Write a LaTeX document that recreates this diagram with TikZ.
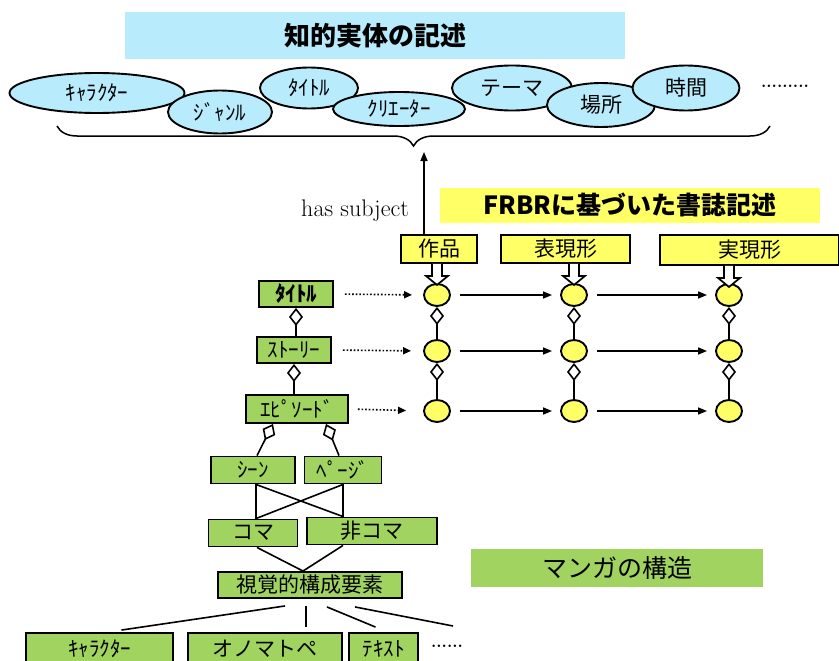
\documentclass[tikz,border=0pt]{standalone}
\usepackage{fontspec}
\newfontfamily\jp{Noto Sans CJK JP}
\usetikzlibrary{shapes.geometric,arrows.meta,decorations.pathreplacing,calc}
\definecolor{lblue}{RGB}{184,236,252}
\definecolor{lyel}{RGB}{255,255,102}
\definecolor{lgreen}{RGB}{160,211,96}
\begin{document}
\begin{tikzpicture}[x=1pt,y=-1pt,
 ent/.style={ellipse, draw, line width=1.9pt, fill=lblue, inner sep=0pt, font=\jp\fontsize{21}{21}\selectfont},
 ybox/.style={draw, line width=1.9pt, fill=lyel, inner sep=0pt, font=\jp\fontsize{21}{21}\selectfont},
 gbox/.style={draw, line width=1.9pt, fill=lgreen, inner sep=0pt, font=\jp\fontsize{21}{21}\selectfont},
 yell/.style={ellipse, draw, line width=1.9pt, fill=lyel, minimum width=26pt, minimum height=22pt, inner sep=0pt},
 link/.style={line width=1.6pt},
 arr/.style={line width=1.6pt, -{Triangle[length=9pt,width=7pt]}},
 dotarr/.style={line width=1.6pt, dotted, -{Triangle[length=8pt,width=7pt]}},
 agg/.style={line width=1.6pt, -{Diamond[open, length=18pt, width=14pt]}},
 hollow/.pic={\draw[line width=1.7pt, fill=white] (-5,0) -- (-5,12) -- (-11,12) -- (0,21) -- (11,12) -- (5,12) -- (5,0);},
]
\clip (0,0) rectangle (839,661);
\fill[white] (0,0) rectangle (839,661);
% top header
\node[fill=lblue, minimum width=500pt, minimum height=47pt, inner sep=0pt,
      font=\jp\bfseries\fontsize{26}{26}\selectfont] (h1) at (375,35.5) {知的実体の記述};
% entity ellipses
\node[ent, minimum width=175pt, minimum height=40pt] (ch) at (97,93) {ｷｬﾗｸﾀｰ};
\node[ent, minimum width=104pt, minimum height=43pt] (ge) at (220,112) {ｼﾞｬﾝﾙ};
\node[ent, minimum width=98pt, minimum height=41pt] (ti) at (309,88) {ﾀｲﾄﾙ};
\node[ent, minimum width=132pt, minimum height=34pt] (cr) at (399,109) {ｸﾘｴｰﾀｰ};
\node[ent, minimum width=120pt, minimum height=45pt] (th) at (512,88) {テーマ};
\node[ent, minimum width=108pt, minimum height=44pt] (pl) at (601,105) {場所};
\node[ent, minimum width=107pt, minimum height=45pt] (tm) at (686,88) {時間};
\node[font=\bfseries\fontsize{17}{17}\selectfont] (dt1) at (785,86) {.........};
% brace
\draw[line width=1.5pt, decorate, decoration={brace, mirror, amplitude=20pt}] (57,126) -- (770,126);
\coordinate (bt) at (424,152);
% FRBR
\node[fill=lyel, minimum width=380pt, minimum height=35pt, inner sep=0pt,
      font=\jp\bfseries\fontsize{25}{25}\selectfont] (h2) at (630,205) {FRBRに基づいた書誌記述};
\node[font=\fontsize{24}{24}\selectfont] (hs) at (355,211) {has subject};
\node[ybox, minimum width=76pt, minimum height=28pt] (w) at (439,249) {作品};
\node[ybox, minimum width=129pt, minimum height=28pt] (ex) at (565.5,249) {表現形};
\node[ybox, minimum width=179pt, minimum height=30pt] (mf) at (749.5,250) {実現形};
\draw[arr] (w.north -| bt) -- (bt);
% yellow ellipses
\node[yell] (e11) at (437,295) {};
\node[yell] (e12) at (574,295) {};
\node[yell] (e13) at (729,295) {};
\node[yell] (e21) at (437,351) {};
\node[yell] (e22) at (574,351) {};
\node[yell] (e23) at (729,351) {};
\node[yell] (e31) at (437,411) {};
\node[yell] (e32) at (574,411) {};
\node[yell] (e33) at (729,411) {};
\pic at (e11.north |- w.south) {hollow};
\pic at (e12.north |- ex.south) {hollow};
\pic at (e13.north |- mf.south) {hollow};
\foreach \c in {1,2,3}{
  \draw[agg] (e2\c.north) -- (e1\c.south);
  \draw[agg] (e3\c.north) -- (e2\c.south);
}
\foreach \r in {1,2,3}{
  \draw[arr, shorten <=9pt, shorten >=8pt] (e\r1.east) -- (e\r2.west);
  \draw[arr, shorten <=9pt, shorten >=8pt] (e\r2.east) -- (e\r3.west);
}
% manga structure
\node[gbox, minimum width=74pt, minimum height=26pt, font=\jp\bfseries\fontsize{21}{21}\selectfont] (gt) at (296,294) {ﾀｲﾄﾙ};
\node[gbox, minimum width=74pt, minimum height=26pt] (gs) at (294,350) {ｽﾄｰﾘｰ};
\node[gbox, minimum width=102pt, minimum height=28pt] (gep) at (297,409) {ｴﾋﾟｿｰﾄﾞ};
\node[gbox, minimum width=84pt, minimum height=27pt] (sc) at (253,470) {ｼｰﾝ};
\node[gbox, minimum width=77pt, minimum height=27pt] (pg) at (343,470) {ﾍﾟｰｼﾞ};
\node[gbox, minimum width=89pt, minimum height=27pt] (km) at (253,533) {コマ};
\node[gbox, minimum width=130pt, minimum height=27pt] (hk) at (372,531) {非コマ};
\node[gbox, minimum width=184pt, minimum height=26pt] (vis) at (310,585) {視覚的構成要素};
\node[gbox, minimum width=147pt, minimum height=32pt] (bch) at (99.5,649) {ｷｬﾗｸﾀｰ};
\node[gbox, minimum width=154pt, minimum height=32pt] (bon) at (265,649) {オノマトペ};
\node[gbox, minimum width=69pt, minimum height=32pt] (btx) at (383.5,649) {ﾃｷｽﾄ};
\node[font=\bfseries\fontsize{17}{17}\selectfont] (dt2) at (447,646) {......};
\coordinate (more) at (453,626);
\node[fill=lgreen, minimum width=292pt, minimum height=38pt, inner sep=0pt,
      font=\jp\fontsize{25}{25}\selectfont] (mg) at (617,568) {マンガの構造};
% links
\draw[agg] (gt.south |- gs.north) -- (gt.south);
\draw[agg] (gs.south |- gep.north) -- (gs.south);
\draw[agg] ($(sc.north)+(4,0)$) -- ($(gep.south)+(-24,0)$);
\draw[agg] ($(pg.north)+(-4,0)$) -- ($(gep.south)+(29,0)$);
\draw[link] ($(sc.south)+(3,0)$) -- ($(km.north)+(3,0)$);
\draw[link] ($(sc.south)+(3,0)$) -- ($(hk.north)+(-29,0)$);
\draw[link] (pg.south) -- ($(hk.north)+(-29,0)$);
\draw[link] (pg.south) -- ($(km.north)+(3,0)$);
\draw[link] ($(km.south)+(4,0)$) -- ($(vis.north)+(-7,0)$);
\draw[link] ($(hk.south)+(-29,0)$) -- ($(vis.north)+(-7,0)$);
\draw[link] ($(vis.south)+(-25,7)$) -- ($(bch.north)+(22,-2)$);
\draw[link] ($(vis.south)+(-4,7)$) -- ($(bon.north)+(41,-5)$);
\draw[link] ($(vis.south)+(17,8)$) -- ($(btx.north)+(-8,-5)$);
\draw[link] ($(vis.south)+(45,8)$) -- (more);
% dotted arrows
\draw[dotarr, shorten <=11pt, shorten >=11pt] (gt.east) -- (e11.west);
\draw[dotarr, shorten <=11pt, shorten >=12pt] (gs.east) -- (e21.west);
\draw[dotarr, shorten <=9pt, shorten >=17pt] (gep.east) -- (e31.west);
\end{tikzpicture}
\end{document}
